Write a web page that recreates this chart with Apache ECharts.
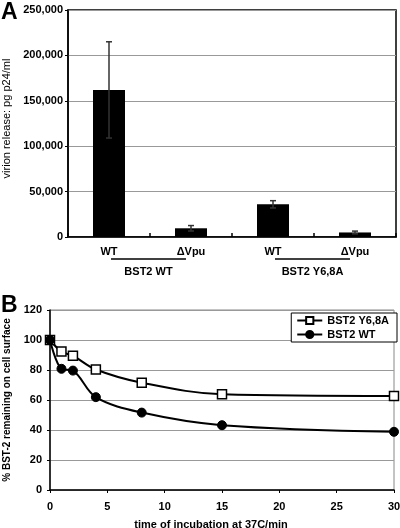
<!DOCTYPE html>
<html><head><meta charset="utf-8">
<script src="https://cdn.jsdelivr.net/npm/echarts@6/dist/echarts.min.js"></script>
<style>html,body{margin:0;padding:0;background:#fff}#c{width:400px;height:528px}</style>
</head><body><div id="c"></div>
<script>
// Panel A data
const barLabels = ['WT', '\u0394Vpu', 'WT', '\u0394Vpu'];
const barValues = [162000, 9600, 36000, 5000];
const barErrors = [53000, 3000, 4000, 1500];
const groupLabels = ['BST2 WT', 'BST2 Y6,8A'];
const groupMembers = [[0, 1], [2, 3]];
// Panel B data
const timePoints = [0, 1, 2, 4, 8, 15, 30];
const y68aValues = [100, 92.3, 89.5, 80.3, 71.5, 63.8, 62.7];
const wtValues = [100, 80.8, 79.6, 61.9, 51.6, 43.2, 38.8];
const seriesNames = ['BST2 Y6,8A', 'BST2 WT'];

const FONT = '"Liberation Sans", Arial, sans-serif';
const chart = echarts.init(document.getElementById('c'), null, {renderer: 'canvas'});

function fmt(v) { return String(v).replace(/\B(?=(\d{3})+(?!\d))/g, ','); }

const errData = barValues.map((v, i) => [i, v - barErrors[i], v + barErrors[i]]);

const option = {
  animation: false,
  textStyle: {fontFamily: FONT},
  grid: [
    {left: 68, right: 4, top: 10, height: 227, show: true, borderColor: '#000', borderWidth: 1.5,
     backgroundColor: 'transparent', containLabel: false, outerBoundsMode: 'none'},
    {left: 50, right: 6, top: 310, height: 180, show: true, borderColor: '#888', borderWidth: 1,
     backgroundColor: 'transparent', containLabel: false, outerBoundsMode: 'none'}
  ],
  xAxis: [
    {
      gridIndex: 0, type: 'category', data: barLabels, boundaryGap: true,
      axisLine: {lineStyle: {color: '#000', width: 1.5}},
      axisTick: {show: true, inside: true, length: 4, lineStyle: {color: '#000', width: 1.5}},
      axisLabel: {color: '#000', fontFamily: FONT, fontWeight: 'bold', fontSize: 11, margin: 9}
    },
    {
      gridIndex: 1, type: 'value', min: 0, max: 30, interval: 5,
      name: 'time of incubation at 37C/min', nameLocation: 'middle', nameGap: 29,
      nameTextStyle: {color: '#000', fontFamily: FONT, fontWeight: 'bold', fontSize: 11, padding: [0, 22, 0, 0]},
      axisLine: {lineStyle: {color: '#000', width: 1.5}},
      axisTick: {show: true, length: 3, lineStyle: {color: '#000'}},
      splitLine: {show: false},
      axisLabel: {color: '#000', fontFamily: FONT, fontWeight: 'bold', fontSize: 11, margin: 11}
    }
  ],
  yAxis: [
    {
      gridIndex: 0, type: 'value', min: 0, max: 250000, interval: 50000,
      name: 'virion release: pg p24/ml', nameLocation: 'middle', nameGap: 47, nameRotate: 90,
      nameTextStyle: {color: '#000', fontFamily: FONT, fontSize: 11, padding: [0, 0, 0, 10]},
      axisLine: {show: true, lineStyle: {color: '#000', width: 1.5}},
      axisTick: {show: true, length: 3, lineStyle: {color: '#000'}},
      splitLine: {show: true, lineStyle: {color: '#999', width: 1}},
      axisLabel: {color: '#000', fontFamily: FONT, fontWeight: 'bold', fontSize: 11, margin: 5, formatter: fmt}
    },
    {
      gridIndex: 1, type: 'value', min: 0, max: 120, interval: 20,
      name: '% BST-2 remaining on cell surface', nameLocation: 'middle', nameGap: 36, nameRotate: 90,
      nameTextStyle: {color: '#000', fontFamily: FONT, fontWeight: 'bold', fontSize: 10},
      axisLine: {show: true, lineStyle: {color: '#000', width: 1.5}},
      axisTick: {show: true, length: 3, lineStyle: {color: '#000'}},
      splitLine: {show: true, lineStyle: {color: '#999', width: 1}},
      axisLabel: {color: '#000', fontFamily: FONT, fontWeight: 'bold', fontSize: 11, margin: 8}
    }
  ],
  legend: {
    data: seriesNames, orient: 'vertical', right: 3, top: 313,
    itemWidth: 25, itemHeight: 9, itemGap: 3,
    borderColor: '#000', borderWidth: 1, padding: [2, 8, 2, 5], backgroundColor: '#fff',
    textStyle: {color: '#000', fontFamily: FONT, fontWeight: 'bold', fontSize: 11}
  },
  series: [
    {
      type: 'bar', xAxisIndex: 0, yAxisIndex: 0, data: barValues, barWidth: 32,
      itemStyle: {color: '#000'}, z: 2
    },
    {
      type: 'custom', xAxisIndex: 0, yAxisIndex: 0, data: errData, z: 3,
      encode: {x: 0, y: [1, 2]},
      renderItem: function (params, api) {
        const lo = api.coord([api.value(0), api.value(1)]);
        const hi = api.coord([api.value(0), api.value(2)]);
        const x = lo[0], w = 3;
        const st = {stroke: '#333', lineWidth: 1.5};
        return {type: 'group', children: [
          {type: 'line', shape: {x1: x, y1: lo[1], x2: x, y2: hi[1]}, style: st},
          {type: 'line', shape: {x1: x - w, y1: lo[1], x2: x + w, y2: lo[1]}, style: st},
          {type: 'line', shape: {x1: x - w, y1: hi[1], x2: x + w, y2: hi[1]}, style: st}
        ]};
      }
    },
    {
      name: seriesNames[0], type: 'line', xAxisIndex: 1, yAxisIndex: 1,
      data: timePoints.map((t, i) => [t, y68aValues[i]]), smooth: 0.35,
      symbol: 'rect', symbolSize: 9, showAllSymbol: true,
      lineStyle: {color: '#000', width: 2},
      itemStyle: {color: '#fff', borderColor: '#000', borderWidth: 1.5}, z: 3
    },
    {
      name: seriesNames[1], type: 'line', xAxisIndex: 1, yAxisIndex: 1,
      data: timePoints.map((t, i) => [t, wtValues[i]]), smooth: 0.35,
      symbol: 'circle', symbolSize: 9, showAllSymbol: true,
      lineStyle: {color: '#000', width: 2},
      itemStyle: {color: '#000', borderColor: '#000', borderWidth: 1}, z: 4
    }
  ]
};
chart.setOption(option);

// group annotations under category axis of panel A
const axisY = chart.convertToPixel({yAxisIndex: 0}, 0);
const graphics = [
  {type: 'text', left: 1, top: 1, style: {text: 'A', font: 'bold 23px ' + FONT, fill: '#000'}},
  {type: 'text', left: 1, top: 294, style: {text: 'B', font: 'bold 23px ' + FONT, fill: '#000'}}
];
groupMembers.forEach((m, gi) => {
  const x1 = chart.convertToPixel({xAxisIndex: 0}, m[0]) + 2;
  const x2 = chart.convertToPixel({xAxisIndex: 0}, m[1]) - 5;
  const ly = axisY + 22;
  graphics.push({type: 'line', shape: {x1: x1, y1: ly, x2: x2, y2: ly}, style: {stroke: '#000', lineWidth: 1.5}});
  graphics.push({type: 'text', x: (x1 + x2) / 2, y: ly + 13,
    style: {text: groupLabels[gi], font: 'bold 11px ' + FONT, fill: '#000', align: 'center', verticalAlign: 'middle'}});
});
chart.setOption({graphic: graphics});
</script>
</body></html>
